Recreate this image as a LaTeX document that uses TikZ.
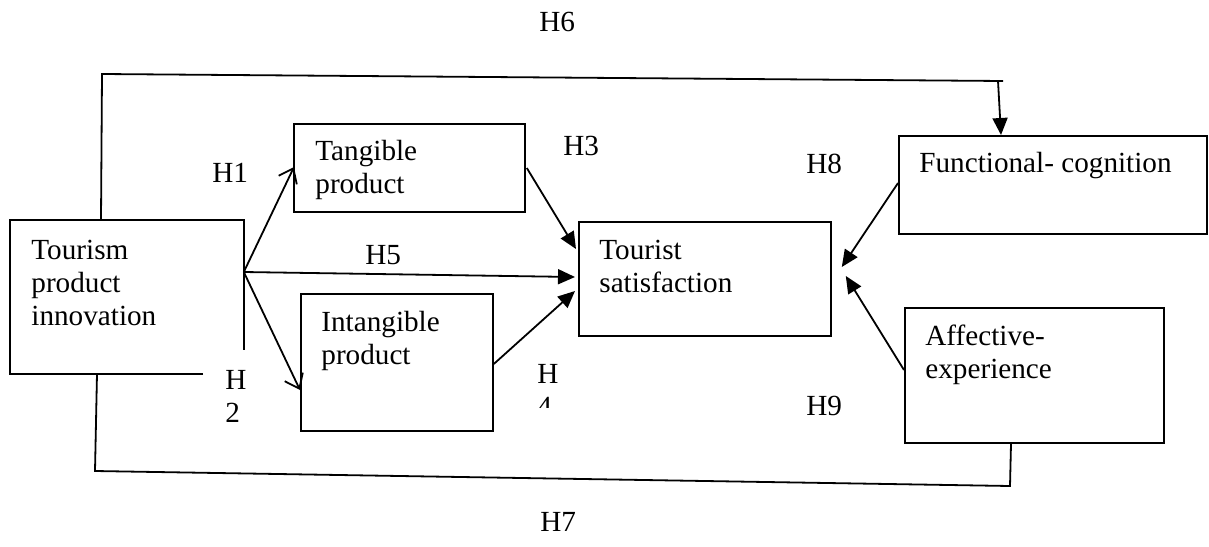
\documentclass[tikz,border=0pt]{standalone}
\usepackage{fontspec}
\setmainfont{Liberation Serif}
\usetikzlibrary{arrows.meta,calc}

% left-aligned multi-line text whose baseline is the first line
\newcommand{\stacktext}[1]{\begin{tabular}[t]{@{}l@{}}#1\end{tabular}}

\tikzset{
  boxshape/.style={rectangle, inner sep=0pt, anchor=north west, line width=0.9pt},
  framed/.style={boxshape, draw},
  txt/.style={anchor=base west, inner sep=0pt},
  link/.style={line width=0.9pt, line join=miter},
  solidtip/.style={-{Triangle[length=8.5pt,width=7.5pt]}},
  opentip/.style={-{Straight Barb[length=6.5pt,width=10pt]}}
}

\begin{document}
\begin{tikzpicture}[x=0.5pt, y=-0.5pt, font=\fontsize{14.6}{16.5}\selectfont]
  \useasboundingbox (0,0) rectangle (1209,546);

  % boxes
  \node[boxshape, minimum width=116pt, minimum height=76pt] (A) at (10,220) {};
  \node[framed, minimum width=115.5pt, minimum height=44pt] (T) at (293,123) {};
  \node[framed, minimum width=96pt, minimum height=68.5pt] (I) at (300,293) {};
  \node[framed, minimum width=126pt, minimum height=57pt] (S) at (578,221) {};
  \node[framed, minimum width=154pt, minimum height=49pt] (F) at (898,135) {};
  \node[framed, minimum width=129.5pt, minimum height=67.5pt] (E) at (904,307) {};

  % outline of the first box, its lower right corner left open
  \draw[link] ($(A.south west)+(193,0)$) -- (A.south west) -- (A.north west)
    -- (A.north east) -- ($(A.north east)+(0,130)$);

  % box texts
  \node[txt] (A-text) at (31,259) {\stacktext{Tourism\\product\\innovation}};
  \node[txt] (T-text) at (315,160) {\stacktext{Tangible\\product}};
  \node[txt] (I-text) at (321,331) {\stacktext{Intangible\\product}};
  \node[txt] (S-text) at (599,259) {\stacktext{Tourist\\satisfaction}};
  \node[txt] (F-text) at (919,172) {Functional- cognition};
  \node[txt] (E-text) at (925,345) {\stacktext{Affective-\\experience}};

  % paths out of the innovation box
  \draw[link, opentip] ($(A.north east)+(0,52)$) -- ($(T.north west)+(1,44)$);
  \draw[link, opentip] ($(A.north east)+(0,52)$) -- ($(I.north west)+(0,97)$);
  \draw[link, solidtip] ($(A.north east)+(0,52)$) -- ($(S.north west)+(-3,56)$);

  % product paths to satisfaction
  \draw[link, solidtip] ($(T.north east)+(1,45)$) -- ($(S.north west)+(-2,28)$);
  \draw[link, solidtip] ($(I.north east)+(0,71)$) -- ($(S.north west)+(-3,70)$);

  % cognition and experience paths to satisfaction
  \draw[link, solidtip] ($(F.north west)+(0,48)$) -- ($(S.north east)+(10,46)$);
  \draw[link, solidtip] ($(E.north west)+(0,63)$) -- ($(S.north east)+(14,55)$);

  % direct path over the top
  \draw[link, solidtip] ($(A.north west)+(91,0)$) -- (102,74) -- (1003,81)
    -- (998,81) -- ($(F.north west)+(103,0)$);

  % connection along the bottom
  \draw[link] ($(E.south west)+(107,0)$) -- (1010,486) -- (95,471)
    -- ($(A.south west)+(87,0)$);

  % hypothesis labels
  \node[txt] (h6) at (539,32) {H6};
  \node[txt] (h1) at (212,182) {H1};
  \node[txt] (h3) at (563,155) {H3};
  \node[txt] (h5) at (365,264) {H5};
  \node[txt] (h8) at (806,173) {H8};
  \node[txt] (h9) at (806,415) {H9};
  \node[txt] (h7) at (540,531) {H7};
  \node[txt] (h2) at (225,389) {\stacktext{H\\2}};
  \begin{scope}
    \clip (530,355) rectangle (575,407);
    \node[txt] (h4) at (537,383) {\stacktext{H\\4}};
  \end{scope}
\end{tikzpicture}
\end{document}
